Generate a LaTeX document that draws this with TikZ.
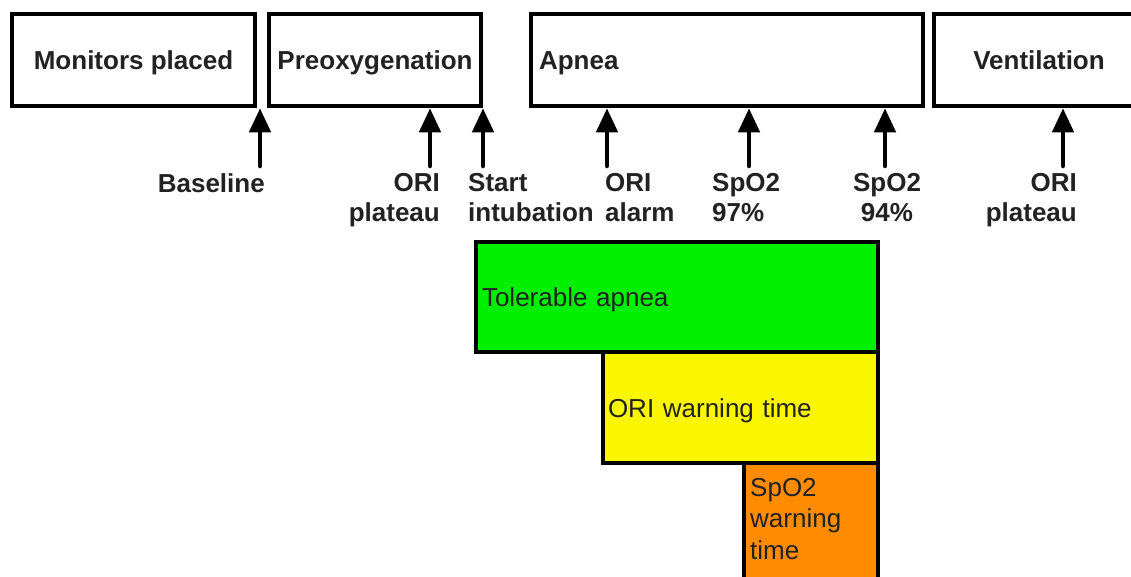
\documentclass[tikz,border=0pt]{standalone}
\usepackage{fontspec}
\setmainfont{Liberation Sans}
\usetikzlibrary{arrows.meta}
\definecolor{txt}{HTML}{222222}
\definecolor{gfill}{HTML}{00F000}
\definecolor{yfill}{HTML}{FAF600}
\definecolor{ofill}{HTML}{FF8C00}
\begin{document}
\begin{tikzpicture}[x=1pt,y=-1pt,
  phase/.style={draw=black, line width=4.5pt, rectangle, inner sep=0pt,
    text height=19pt, text depth=0pt,
    font=\fontsize{26}{30}\selectfont\bfseries, text=txt},
  band/.style={draw=black, line width=4.5pt, rectangle, inner ysep=0pt,
    text height=19pt, text depth=0pt,
    font=\fontsize{26}{31.5}\selectfont, text=txt, align=left},
  evt/.style={font=\fontsize{26}{30}\selectfont\bfseries, text=txt, inner sep=0pt},
  up/.style={line width=4.5pt, line cap=round, -{Triangle[width=21pt,length=24pt]}}
]
\useasboundingbox (0,0) rectangle (1131,576);
\fill[white] (0,0) rectangle (1131,576);
\clip (0,0) rectangle (1131,576);

% phase boxes
\node[phase, minimum width=243pt, minimum height=92pt] (mon) at (133.5,60) {Monitors placed};
\node[phase, minimum width=212pt, minimum height=92pt] (pre) at (375,60) {Preoxygenation};
\node[phase, minimum width=392pt, minimum height=92pt, inner xsep=8pt, text width=376pt, align=left] (apn) at (727,60) {Apnea};
\node[phase, minimum width=210pt, minimum height=92pt] (ven) at (1039,60) {Ventilation};

% coloured bands
\node[band, fill=gfill, minimum width=402pt, minimum height=110pt, inner xsep=6pt, text width=390pt] (tol) at (677,297) {Tolerable apnea};
\node[band, fill=yfill, minimum width=275pt, minimum height=111pt, inner xsep=5pt, text width=265pt] (ori) at (740.5,407.5) {ORI warning time};
\node[band, fill=ofill, minimum width=134pt, minimum height=137pt] (spo) at (811,531.5) {};
\node[evt, font=\fontsize{26}{31.5}\selectfont, align=left, anchor=north west] (spot) at (750,478) {SpO2\\warning\\time};

% event labels
\node[evt, anchor=north east] (l1) at (265,173) {Baseline};
\node[evt, anchor=north east, align=right] (l2) at (440,173) {ORI\\plateau};
\node[evt, anchor=north west, align=left] (l3) at (468,173) {Start\\intubation};
\node[evt, anchor=north west, align=left] (l4) at (605,173) {ORI\\alarm};
\node[evt, anchor=north west, align=left] (l5) at (712,173) {SpO2\\97\%};
\node[evt, anchor=north, align=center] (l6) at (887,173) {SpO2\\94\%};
\node[evt, anchor=north east, align=right] (l7) at (1077,173) {ORI\\plateau};

% arrow tails
\coordinate (a1) at (260,166);
\coordinate (a2) at (430,166);
\coordinate (a3) at (483,166);
\coordinate (a4) at (607,166);
\coordinate (a5) at (749,166);
\coordinate (a6) at (885,166);
\coordinate (a7) at (1063,166);

\draw[up] (a1) -- (a1 |- mon.south);
\draw[up] (a2) -- (a2 |- pre.south);
\draw[up] (a3) -- (a3 |- pre.south);
\draw[up] (a4) -- (a4 |- apn.south);
\draw[up] (a5) -- (a5 |- apn.south);
\draw[up] (a6) -- (a6 |- apn.south);
\draw[up] (a7) -- (a7 |- ven.south);
\end{tikzpicture}
\end{document}
